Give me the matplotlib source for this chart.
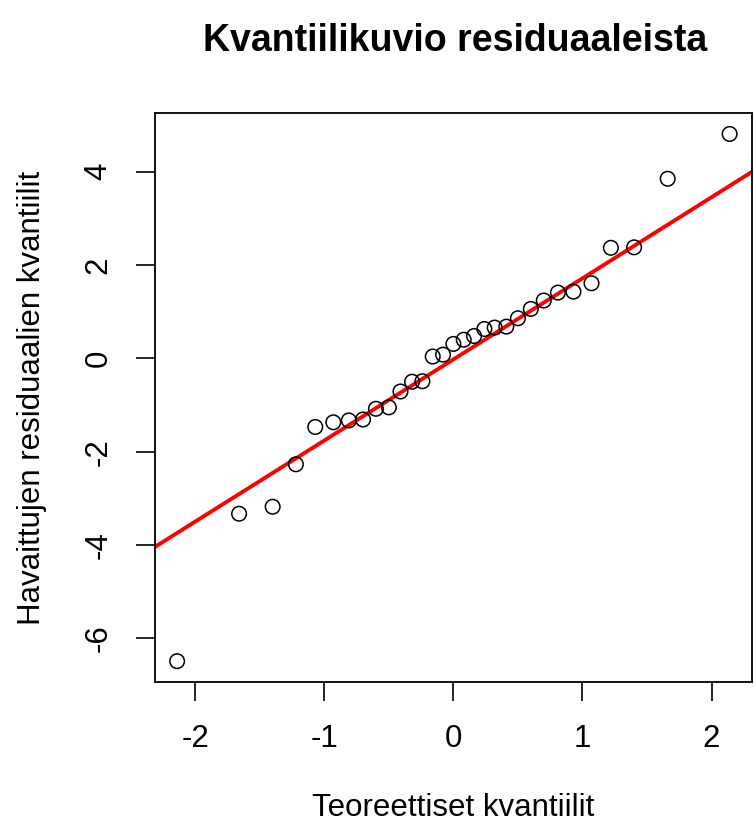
import numpy as np
import matplotlib
matplotlib.use("Agg")
from matplotlib import pyplot as plt

# --- values
teor_kvantiilit = [-2.14, -1.66, -1.40, -1.22, -1.07, -0.93, -0.81, -0.70, -0.60, -0.50,
                   -0.41, -0.32, -0.24, -0.16, -0.08, 0.00, 0.08, 0.16, 0.24, 0.32,
                   0.41, 0.50, 0.60, 0.70, 0.81, 0.93, 1.07, 1.22, 1.40, 1.66, 2.14]
residuaalit = [-6.49, -3.33, -3.18, -2.27, -1.47, -1.37, -1.33, -1.31, -1.08, -1.05,
               -0.71, -0.50, -0.49, 0.04, 0.08, 0.31, 0.40, 0.48, 0.63, 0.66,
               0.68, 0.86, 1.06, 1.24, 1.41, 1.43, 1.61, 2.37, 2.38, 3.85, 4.81]
x_ticks = [-2, -1, 0, 1, 2]
y_ticks = [-6, -4, -2, 0, 2, 4]

plt.rcParams['font.family'] = ['Liberation Sans', 'DejaVu Sans']

x = np.array(teor_kvantiilit)
y = np.array(residuaalit)

# qqline: line through the 1st and 3rd quartiles
y_q = np.percentile(y, [25, 75])
x_q = np.array([-0.6744898, 0.6744898])
slope = (y_q[1] - y_q[0]) / (x_q[1] - x_q[0])
intercept = y_q[0] - slope * x_q[0]

# R style axis limits (4 % extension)
def r_lim(v):
    d = (v.max() - v.min()) * 0.04
    return v.min() - d, v.max() + d

fig = plt.figure(figsize=(7.54, 8.30), dpi=100)
ax = fig.add_axes([0.2056, 0.178, 0.7914, 0.686])

ax.scatter(x, y, s=110, facecolors='none', edgecolors='black', linewidths=1.1, zorder=3)

xl = np.array(r_lim(x))
ax.set_xlim(*xl)
ax.set_ylim(*r_lim(y))
ax.plot(xl, intercept + slope * xl, color='red', lw=2.8, zorder=2)

ax.set_xticks(x_ticks)
ax.set_yticks(y_ticks)
ax.set_xticklabels([str(v) for v in x_ticks])
ax.set_yticklabels([str(v) for v in y_ticks], rotation=90, va='center')
ax.tick_params(direction='out', length=14, width=1.2, labelsize=22.5, pad=16)
for s in ax.spines.values():
    s.set_linewidth(1.3)

ax.set_xlabel('Teoreettiset kvantiilit', fontsize=22.5, labelpad=28)
ax.set_ylabel('Havaittujen residuaalien kvantiilit', fontsize=22.5, labelpad=26)
fig.suptitle('Kvantiilikuvio residuaaleista', fontsize=27, fontweight='bold', x=0.603, y=0.972)

fig.savefig('out.png', dpi=100)
